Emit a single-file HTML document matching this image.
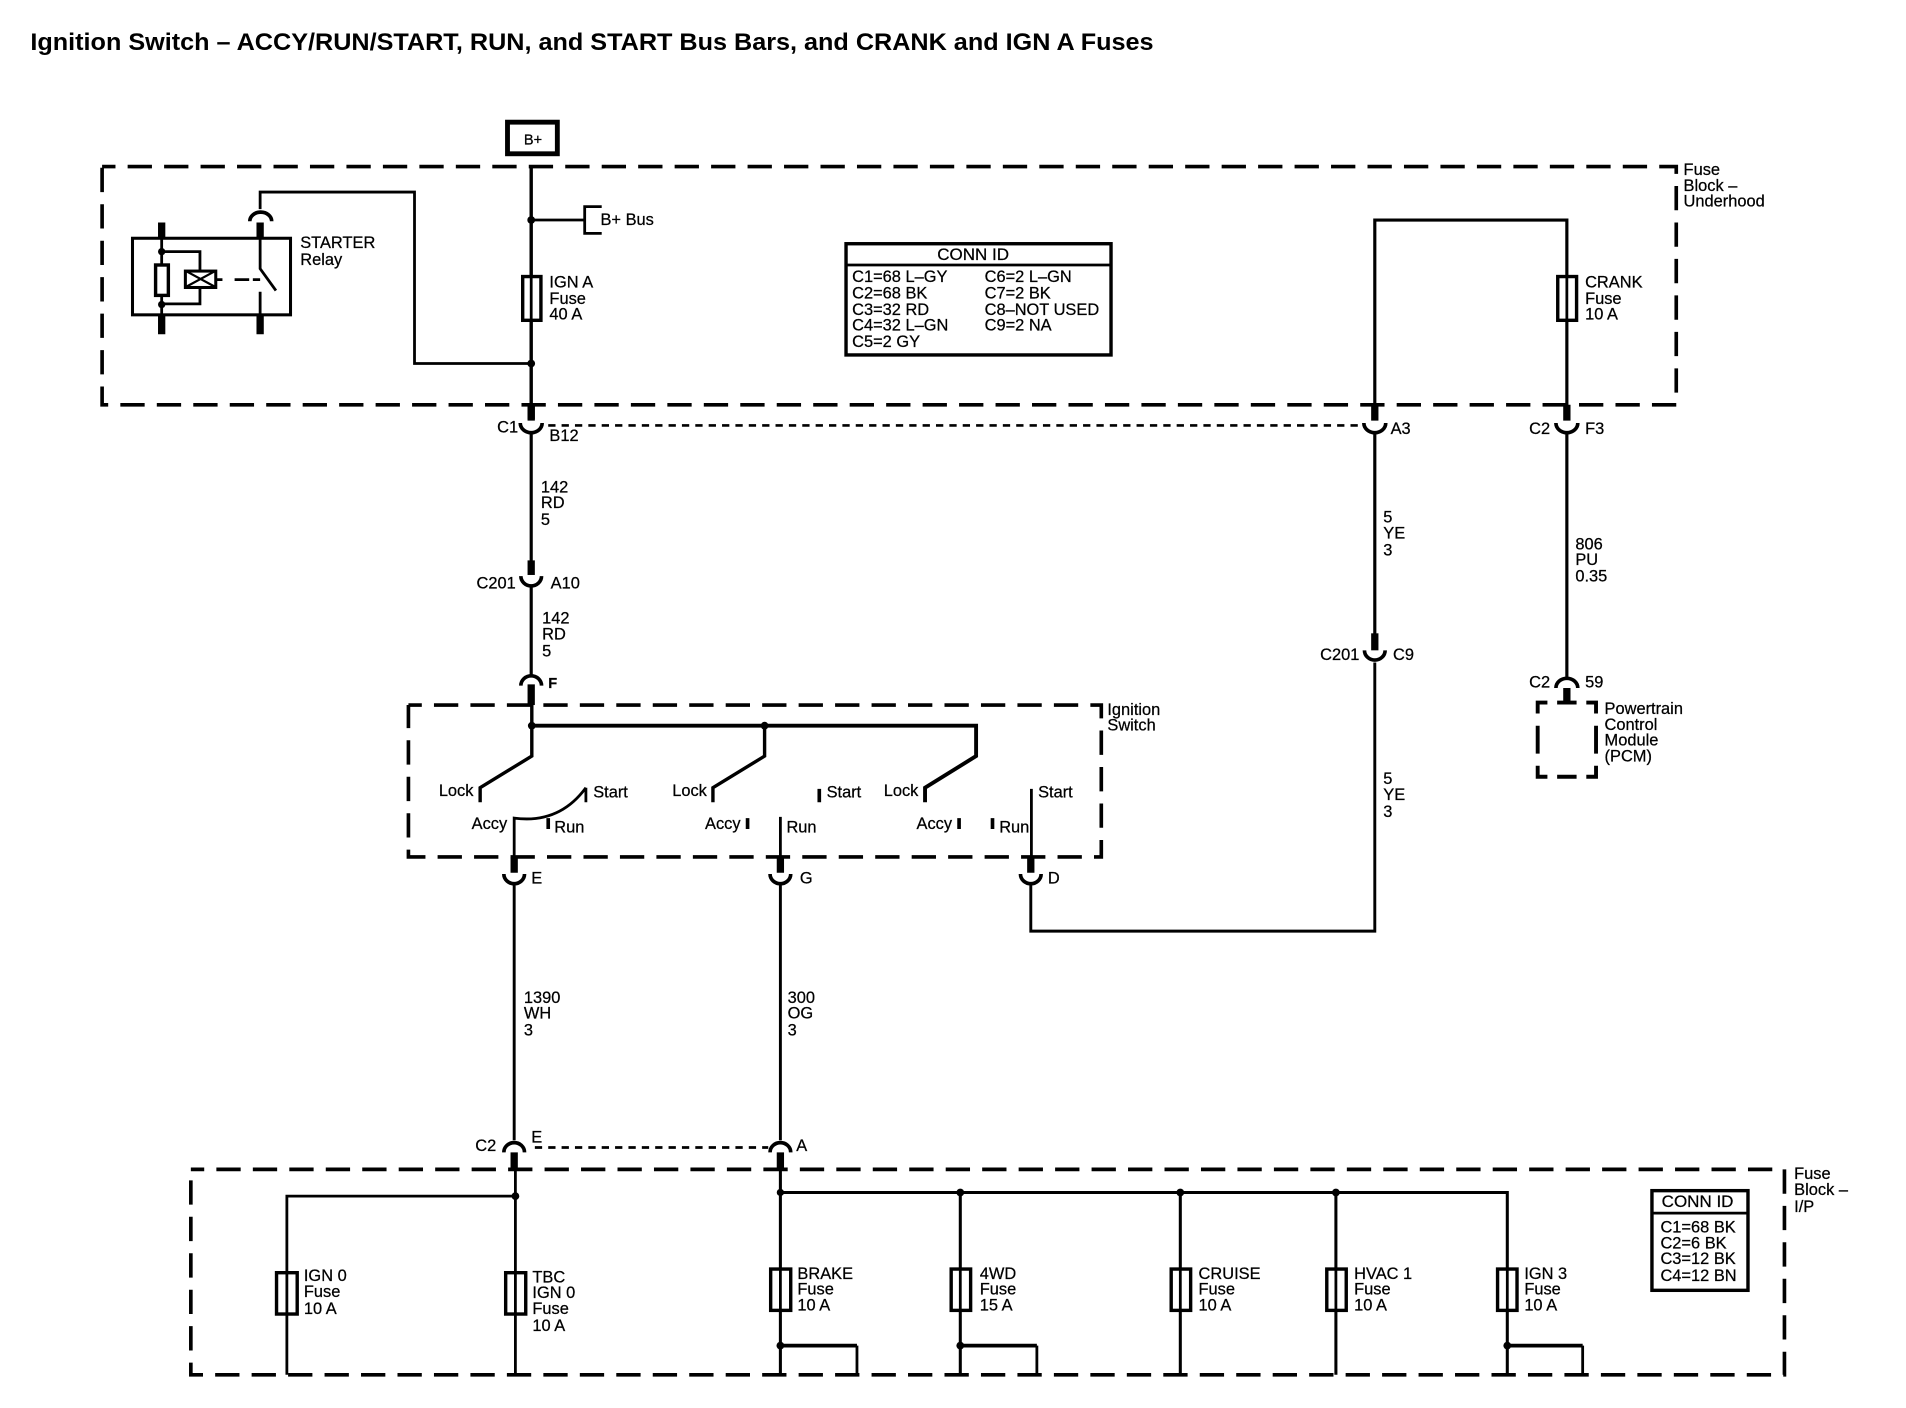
<!DOCTYPE html>
<html><head><meta charset="utf-8"><title>Ignition Switch</title>
<style>
html,body{margin:0;padding:0;background:#fff;width:1906px;height:1408px;overflow:hidden}
svg{display:block}
text{font-family:"Liberation Sans",sans-serif;font-size:13.5px;fill:#000;stroke:#000;stroke-width:.2}
.w{fill:none;stroke:#000;stroke-width:2.3}
.b{fill:none;stroke:#000;stroke-width:6}
.d{fill:none;stroke:#000;stroke-width:3;stroke-dasharray:20 10;stroke-dashoffset:9}
.s{fill:none;stroke:#000;stroke-width:2.2;stroke-dasharray:6 5}
.j{fill:#000;stroke:none}
.f{fill:#fff;stroke:#000;stroke-width:2.8}
</style></head><body>
<svg xmlns="http://www.w3.org/2000/svg" width="1906" height="1408" viewBox="0 0 1568 1158.300">
<text x="25" y="41" style="font-size:20px;font-weight:bold;stroke:none" textLength="924" lengthAdjust="spacingAndGlyphs">Ignition Switch – ACCY/RUN/START, RUN, and START Bus Bars, and CRANK and IGN A Fuses</text>

<!-- B+ -->
<rect x="417.500" y="100.500" width="41" height="26" fill="#fff" stroke="#000" stroke-width="4"/>
<text x="431" y="119" style="font-size:12px">B+</text>

<!-- Underhood block -->
<path class="d" d="M84 137H1379V333H84V137"/>
<text x="1385" y="144">Fuse</text><text x="1385" y="157">Block –</text><text x="1385" y="170">Underhood</text>

<path class="w" style="stroke-width:2.800" d="M437 137V335"/>
<path class="b" d="M437 333V345"/>
<circle class="j" cx="437" cy="181" r="3.200"/>
<path class="w" d="M437 181H481M495 170H481V192H495"/>
<text x="494" y="185">B+ Bus</text>
<rect class="f" x="430" y="227.500" width="15" height="36"/>
<path class="w" d="M437 227V264"/>
<text x="452" y="236.500">IGN A</text><text x="452" y="250">Fuse</text><text x="452" y="263">40 A</text>
<circle class="j" cx="437" cy="299" r="3.200"/>
<path class="w" d="M437 299H341V158H214V172"/>

<!-- Relay -->
<rect x="109" y="196" width="130" height="63" fill="none" stroke="#000" stroke-width="2.500"/>
<path class="b" d="M133 183V196M133 259V275M214 183V196M214 259V275"/>
<path class="w" d="M133 196V259M133 207H164.500V250H133M214 196V221L227 239M214 240V262"/>
<path class="w" style="stroke-width:3" d="M205.500 182A9 7.500 0 0 1 223.500 182"/>
<rect class="f" x="128" y="218" width="10.500" height="25"/>
<circle class="j" cx="133" cy="207" r="3"/><circle class="j" cx="133" cy="250.500" r="3"/>
<rect x="152.500" y="223" width="25" height="13.500" fill="#fff" stroke="#000" stroke-width="2.500"/>
<path class="w" d="M153 223L177 236M153 236L177 223" style="stroke-width:1.800"/>
<path class="w" d="M178 230H183M193 230H205M208 230H214"/>
<text x="247" y="204">STARTER</text><text x="247" y="218">Relay</text>

<!-- CONN ID 1 -->
<rect x="696" y="200.500" width="218" height="91.500" fill="#fff" stroke="#000" stroke-width="2.800"/>
<path class="w" d="M696 218H914"/>
<text x="771" y="214" style="font-size:14px">CONN ID</text>
<text x="701" y="232">C1=68 L–GY</text><text x="701" y="245.500">C2=68 BK</text><text x="701" y="259">C3=32 RD</text><text x="701" y="272">C4=32 L–GN</text><text x="701" y="285.500">C5=2 GY</text>
<text x="810" y="232">C6=2 L–GN</text><text x="810" y="245.500">C7=2 BK</text><text x="810" y="259">C8–NOT USED</text><text x="810" y="272">C9=2 NA</text>

<!-- Right side upper -->
<path class="w" style="stroke-width:2.600" d="M1131 334V181H1289V334"/>
<rect class="f" x="1281.500" y="227.500" width="15.500" height="36"/>
<path class="w" d="M1289 227V264"/>
<text x="1304" y="236.500">CRANK</text><text x="1304" y="250">Fuse</text><text x="1304" y="263">10 A</text>

<!-- connectors row C1 -->
<path class="b" d="M437 333V346M1131 333V346M1289 333V346"/>
<path class="w" style="stroke-width:3" d="M428 348A9 8 0 0 0 446 348M1122 348A9 8 0 0 0 1140 348M1280 348A9 8 0 0 0 1298 348"/>
<path class="s" d="M451 350H1122"/>
<text x="409" y="356">C1</text><text x="452" y="363">B12</text>
<text x="1144" y="357">A3</text><text x="1258" y="357">C2</text><text x="1304" y="357">F3</text>

<!-- 142 wire -->
<path class="w" style="stroke-width:2.600" d="M437 356V462"/>
<text x="445" y="405">142</text><text x="445" y="418">RD</text><text x="445" y="432">5</text>
<path class="b" d="M437 461V473"/>
<path class="w" style="stroke-width:3" d="M428.500 474A8.500 8 0 0 0 445.500 474"/>
<text x="392" y="484">C201</text><text x="453" y="484">A10</text>
<path class="w" style="stroke-width:2.600" d="M437 482V556"/>
<text x="446" y="513">142</text><text x="446" y="526">RD</text><text x="446" y="540">5</text>
<path class="w" style="stroke-width:3" d="M428.500 564A8.500 8 0 0 1 445.500 564"/>
<path class="b" d="M437 563V580"/>
<text x="451" y="566" style="font-weight:bold;font-size:12px">F</text>

<!-- Ignition switch -->
<path class="d" d="M336 580H906V705H336V580"/>
<text x="911" y="588">Ignition</text><text x="911" y="601">Switch</text>
<path class="w" style="stroke-width:3.200" d="M437.500 597H803V622L761 648V660"/>
<path class="w" style="stroke-width:2.800" d="M437.500 578V622L395 648V660M629 597V622L586.500 648V660"/>
<circle class="j" cx="437.500" cy="597" r="3.200"/><circle class="j" cx="629" cy="597" r="3.200"/>
<path class="w" d="M482 648V660M482 648Q460 678 423 673V705"/>
<path class="w" style="stroke-width:3" d="M451 673V682M615 673V682M674 649V660M789 673V682M816.500 673V682"/>
<path class="w" d="M642 672V705M848.500 649V705"/>
<text x="361" y="655">Lock</text><text x="488" y="656">Start</text><text x="388" y="682">Accy</text><text x="456" y="685">Run</text>
<text x="553" y="655">Lock</text><text x="680" y="656">Start</text><text x="580" y="682">Accy</text><text x="647" y="685">Run</text>
<text x="727" y="655">Lock</text><text x="854" y="656">Start</text><text x="754" y="682">Accy</text><text x="822" y="685">Run</text>

<!-- E G D -->
<path class="b" d="M423 705V718M642 705V718M848 705V718"/>
<path class="w" style="stroke-width:3" d="M414.500 719A8.500 8 0 0 0 431.500 719M633.500 719A8.500 8 0 0 0 650.500 719M839.500 719A8.500 8 0 0 0 856.500 719"/>
<text x="437" y="727">E</text><text x="658" y="727">G</text><text x="862" y="727">D</text>
<path class="w" style="stroke-width:2.400" d="M423 727V938M642 727V938M848 727V766H1131V545"/>
<text x="431" y="825">1390</text><text x="431" y="838">WH</text><text x="431" y="852">3</text>
<text x="648" y="825">300</text><text x="648" y="838">OG</text><text x="648" y="852">3</text>

<!-- A3 lower -->
<path class="w" style="stroke-width:2.600" d="M1131 356V522"/>
<text x="1138" y="430">5</text><text x="1138" y="443">YE</text><text x="1138" y="457">3</text>
<path class="b" d="M1131 521V535"/>
<path class="w" style="stroke-width:3" d="M1122.500 535A8.500 8 0 0 0 1139.500 535"/>
<text x="1086" y="543">C201</text><text x="1146" y="543">C9</text>
<text x="1138" y="645">5</text><text x="1138" y="658">YE</text><text x="1138" y="672">3</text>

<!-- F3 lower / PCM -->
<path class="w" style="stroke-width:2.600" d="M1289 356V558"/>
<text x="1296" y="452">806</text><text x="1296" y="465">PU</text><text x="1296" y="478.500">0.35</text>
<path class="w" style="stroke-width:3" d="M1280 566A9 8 0 0 1 1298 566"/>
<path class="b" d="M1289 566V578"/>
<text x="1258" y="565.500">C2</text><text x="1304" y="565.500">59</text>
<path class="w" style="stroke-width:3.200" d="M1265 587V578H1273M1281 578H1297M1305 578H1313V587M1265 597V620M1313 597V620M1265 630V639H1273M1281 639H1297M1305 639H1313V630"/>
<text x="1320" y="587.500">Powertrain</text><text x="1320" y="600.500">Control</text><text x="1320" y="613.500">Module</text><text x="1320" y="626.500">(PCM)</text>

<!-- Lower connectors -->
<path class="w" style="stroke-width:3" d="M414.500 948A8.500 8 0 0 1 431.500 948M633.500 948A8.500 8 0 0 1 650.500 948"/>
<path class="b" d="M423 948V962M642 948V962"/>
<path class="s" d="M440 944H632"/>
<text x="391" y="947">C2</text><text x="437" y="940">E</text><text x="655" y="947">A</text>

<!-- IP block -->
<path class="d" d="M157 962H1468V1131H157V962"/>
<text x="1476" y="970">Fuse</text><text x="1476" y="983">Block –</text><text x="1476" y="997">I/P</text>
<path class="w" d="M424 962V1131M424 984H236V1131"/>
<circle class="j" cx="424" cy="984" r="3.200"/>
<rect class="f" x="227.500" y="1047" width="17" height="34"/><path class="w" d="M236 1047V1081"/>
<rect class="f" x="416" y="1047" width="16.500" height="34"/><path class="w" d="M424 1047V1081"/>
<text x="250" y="1054">IGN 0</text><text x="250" y="1067">Fuse</text><text x="250" y="1081">10 A</text>
<text x="438" y="1055">TBC</text><text x="438" y="1068">IGN 0</text><text x="438" y="1081">Fuse</text><text x="438" y="1095">10 A</text>

<path class="w" style="stroke-width:2.500" d="M642 962V1131M642 981H1240V1131M790 981V1131M971 981V1131M1099 981V1131"/>
<path class="w" style="stroke-width:3" d="M642 1107H705M790 1107H853M1240 1107H1302"/>
<path class="w" d="M705 1107V1131M853 1107V1131M1302 1107V1131"/>
<circle class="j" cx="642" cy="981" r="3"/><circle class="j" cx="790" cy="981" r="3.200"/><circle class="j" cx="971" cy="981" r="3.200"/><circle class="j" cx="1099" cy="981" r="3.200"/>
<circle class="j" cx="642" cy="1107" r="3.200"/><circle class="j" cx="790" cy="1107" r="3.200"/><circle class="j" cx="1240" cy="1107" r="3.200"/>
<rect class="f" x="634" y="1044" width="16.500" height="34"/><path class="w" d="M642 1044V1078"/>
<rect class="f" x="782.500" y="1044" width="16" height="34"/><path class="w" d="M790 1044V1078"/>
<rect class="f" x="963.500" y="1044" width="16" height="34"/><path class="w" d="M971 1044V1078"/>
<rect class="f" x="1091.500" y="1044" width="16" height="34"/><path class="w" d="M1099 1044V1078"/>
<rect class="f" x="1232" y="1044" width="16" height="34"/><path class="w" d="M1240 1044V1078"/>
<text x="656" y="1052">BRAKE</text><text x="656" y="1065">Fuse</text><text x="656" y="1078">10 A</text>
<text x="806" y="1052">4WD</text><text x="806" y="1065">Fuse</text><text x="806" y="1078">15 A</text>
<text x="986" y="1052">CRUISE</text><text x="986" y="1065">Fuse</text><text x="986" y="1078">10 A</text>
<text x="1114" y="1052">HVAC 1</text><text x="1114" y="1065">Fuse</text><text x="1114" y="1078">10 A</text>
<text x="1254" y="1052">IGN 3</text><text x="1254" y="1065">Fuse</text><text x="1254" y="1078">10 A</text>

<!-- CONN ID 2 -->
<rect x="1359" y="979.500" width="79" height="82" fill="#fff" stroke="#000" stroke-width="2.800"/>
<path class="w" d="M1359 998H1438"/>
<text x="1367" y="993" style="font-size:14px">CONN ID</text>
<text x="1366" y="1014">C1=68 BK</text><text x="1366" y="1027">C2=6 BK</text><text x="1366" y="1040">C3=12 BK</text><text x="1366" y="1054">C4=12 BN</text>
</svg>
</body></html>
